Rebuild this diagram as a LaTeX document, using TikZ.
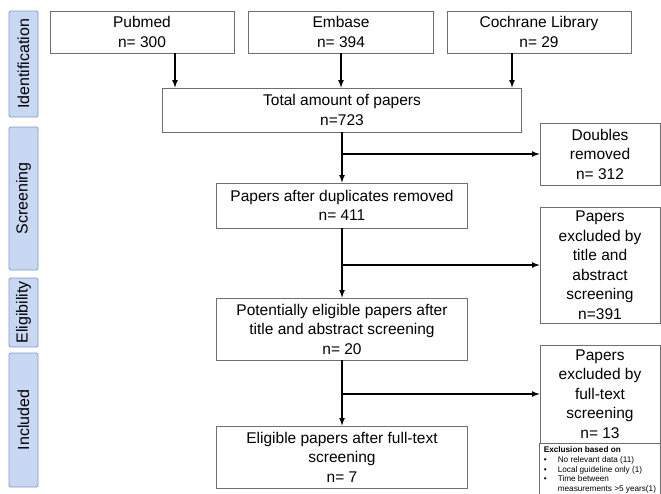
\documentclass[tikz,border=0pt]{standalone}
\usepackage{fontspec}
\setmainfont{Liberation Sans}
\usepackage{xcolor}
\usepackage{tikz}
\usetikzlibrary{arrows,positioning,calc}
\definecolor{phasefill}{RGB}{200,216,243}
\definecolor{phaseline}{RGB}{125,155,210}
\definecolor{boxline}{RGB}{110,110,110}

\begin{document}
\begin{tikzpicture}[x=1pt,y=-1pt,
	box/.style={draw=boxline,line width=0.8pt,align=center,inner sep=0pt,font=\fontsize{15.5}{19.5}\selectfont},
	phase/.style={draw=phaseline,fill=phasefill,line width=0.8pt,rounded corners=1.5pt,rotate=90,minimum height=29pt,inner sep=0pt,font=\fontsize{16}{19}\selectfont},
	note/.style={align=left,inner sep=3pt,font=\fontsize{8.2}{9.8}\selectfont},
	flow/.style={-latex,line width=1.6pt}]
	\useasboundingbox (0,0) rectangle (661,493);
	\node[phase,minimum width=106pt] (ident) at (23.5,64) {Identification};
	\node[phase,minimum width=143pt] (screen) at (23.5,198.5) {Screening};
	\node[phase,minimum width=69pt] (elig) at (23.5,312.5) {Eligibility};
	\node[phase,minimum width=134pt] (incl) at (23.5,420) {Included};
	\node[box,minimum width=184pt,minimum height=42pt] (pubmed) at (142,32) {Pubmed\\n= 300};
	\node[box,minimum width=185pt,minimum height=42pt] (embase) at (341,32) {Embase\\n= 394};
	\node[box,minimum width=184pt,minimum height=42pt] (cochrane) at (539,32) {Cochrane Library\\n= 29};
	\node[box,minimum width=359pt,minimum height=44pt] (total) at (342,110) {Total amount of papers\\n=723};
	\node[box,minimum width=251pt,minimum height=45pt] (dup) at (342,205.5) {Papers after duplicates removed\\n= 411};
	\node[box,minimum width=251pt,minimum height=62pt] (potential) at (342,329) {Potentially eligible papers after\\title and abstract screening\\n= 20};
	\node[box,minimum width=251pt,minimum height=62pt] (eligible) at (342,457) {Eligible papers after full-text\\screening\\n= 7};
	\node[box,minimum width=120pt,minimum height=62pt] (doubles) at (600,154) {Doubles\\removed\\n= 312};
	\node[box,minimum width=120pt,minimum height=116pt] (titleex) at (600,265) {Papers\\excluded by\\title and\\abstract\\screening\\n=391};
	\node[box,minimum width=120pt,minimum height=98pt] (fullex) at (600,394) {Papers\\excluded by\\full-text\\screening\\n= 13};
	\node[note,anchor=north west] (crit) at ([xshift=1pt]fullex.south west) {\textbf{Exclusion based on}\\
		\makebox[14pt][l]{\textbullet}No relevant data (11)\\
		\makebox[14pt][l]{\textbullet}Local guideline only (1)\\
		\makebox[14pt][l]{\textbullet}Time between\\
		\hspace*{14pt}measurements >5 years(1)};
	\draw[boxline,line width=0.8pt] (fullex.south west) -- ++(0,55);
	\draw[boxline,line width=0.8pt] (fullex.south east) -- ++(0,55);
	\draw[flow] (pubmed.south -| 175,0) -- (175,0 |- total.north);
	\draw[flow] (embase.south) -- (embase.south |- total.north);
	\draw[flow] (cochrane.south -| 512,0) -- (512,0 |- total.north);
	\draw[flow] (total.south) -- (dup.north);
	\draw[flow] (dup.south) -- (potential.north);
	\draw[flow] (potential.south) -- (eligible.north);
	\draw[flow] (total.south |- doubles.west) -- (doubles.west);
	\draw[flow] (dup.south |- titleex.west) -- (titleex.west);
	\draw[flow] (potential.south |- fullex.west) -- (fullex.west);
\end{tikzpicture}
\end{document}
